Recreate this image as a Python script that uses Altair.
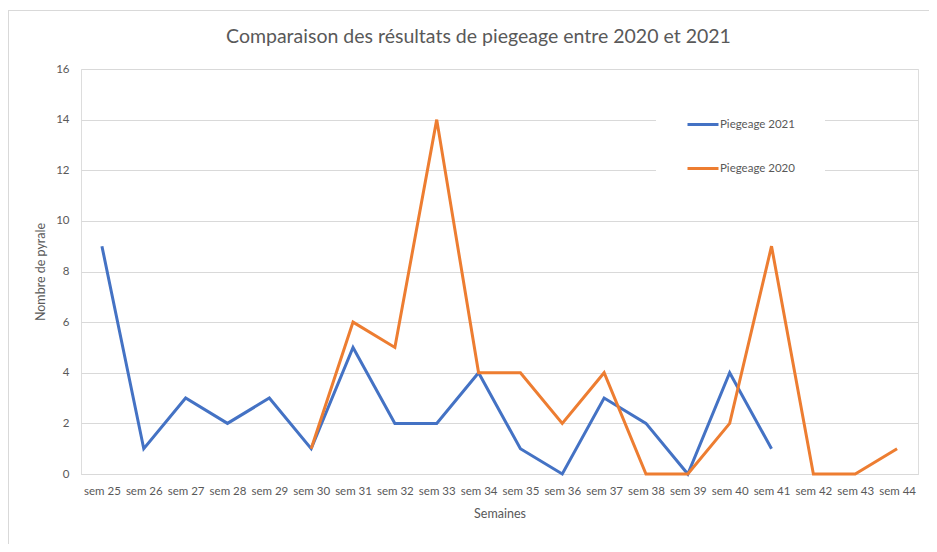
import altair as alt
import pandas as pd

weeks = [f"sem {i}" for i in range(25, 45)]
piegeage_2021 = [9, 1, 3, 2, 3, 1, 5, 2, 2, 4, 1, 0, 3, 2, 0, 4, 1, None, None, None]
piegeage_2020 = [None, None, None, None, None, 1, 6, 5, 14, 4, 4, 2, 4, 0, 0, 2, 9, 0, 0, 1]
series_names = ["Piegeage 2021", "Piegeage 2020"]
series_colors = ["#4472C4", "#ED7D31"]

rows = []
for name, vals in zip(series_names, [piegeage_2021, piegeage_2020]):
    for w, v in zip(weeks, vals):
        if v is not None:
            rows.append({"Semaine": w, "Valeur": v, "Serie": name})
df = pd.DataFrame(rows)

FONT = "Lato"
GREY = "#595959"

lines = alt.Chart(df).mark_line(strokeWidth=3, strokeJoin="miter").encode(
    x=alt.X("Semaine:N", sort=weeks, scale=alt.Scale(domain=weeks, paddingInner=0, paddingOuter=0.5),
            axis=alt.Axis(title="Semaines", labelAngle=0, ticks=False, domain=True, domainColor="#D9D9D9",
                          labelPadding=11, titlePadding=11, labelFontSize=11.5, titleFontSize=12.5,
                          labelColor=GREY, titleColor=GREY, labelFont=FONT, titleFont=FONT,
                          titleFontWeight="normal", labelOverlap=False)),
    y=alt.Y("Valeur:Q", scale=alt.Scale(domain=[0, 16]),
            axis=alt.Axis(title="Nombre de pyrale", values=list(range(0, 17, 2)), ticks=False, domain=False,
                          gridColor="#D9D9D9", labelPadding=12, titlePadding=8, labelFontSize=11.5,
                          titleFontSize=12.5, labelColor=GREY, titleColor=GREY, labelFont=FONT,
                          titleFont=FONT, titleFontWeight="normal")),
    color=alt.Color("Serie:N", sort=series_names,
                    scale=alt.Scale(domain=series_names, range=series_colors),
                    legend=alt.Legend(title=None, orient="none", legendX=575, legendY=8.5,
                                      symbolType="stroke", symbolSize=961, symbolStrokeWidth=3,
                                      rowPadding=21, labelOffset=0, labelFontSize=11.5,
                                      labelColor=GREY, labelFont=FONT, padding=30,
                                      fillColor="white")),
)

frame_top = alt.Chart(df).mark_rule(color="#D9D9D9", strokeWidth=1).encode(
    x=alt.value(-72.5), x2=alt.value(860), y=alt.value(-58.5))
frame_left = alt.Chart(df).mark_rule(color="#D9D9D9", strokeWidth=1).encode(
    x=alt.value(-72.5), y=alt.value(-58.5), y2=alt.value(480))

chart = alt.layer(frame_top, frame_left, lines).properties(
    width=837, height=405,
    autosize=alt.AutoSizeParams(type="none"),
    padding={"left": 73, "top": 61, "right": 11, "bottom": 70},
    title=alt.TitleParams("Comparaison des résultats de piegeage entre 2020 et 2021",
                          font=FONT, fontSize=19.5, fontWeight="normal", color=GREY,
                          anchor="middle", frame="group", dx=-21, offset=-37),
).configure_view(stroke=None).configure(background="white")

chart.save("out.html", embed_options={"renderer": "svg", "actions": False})
